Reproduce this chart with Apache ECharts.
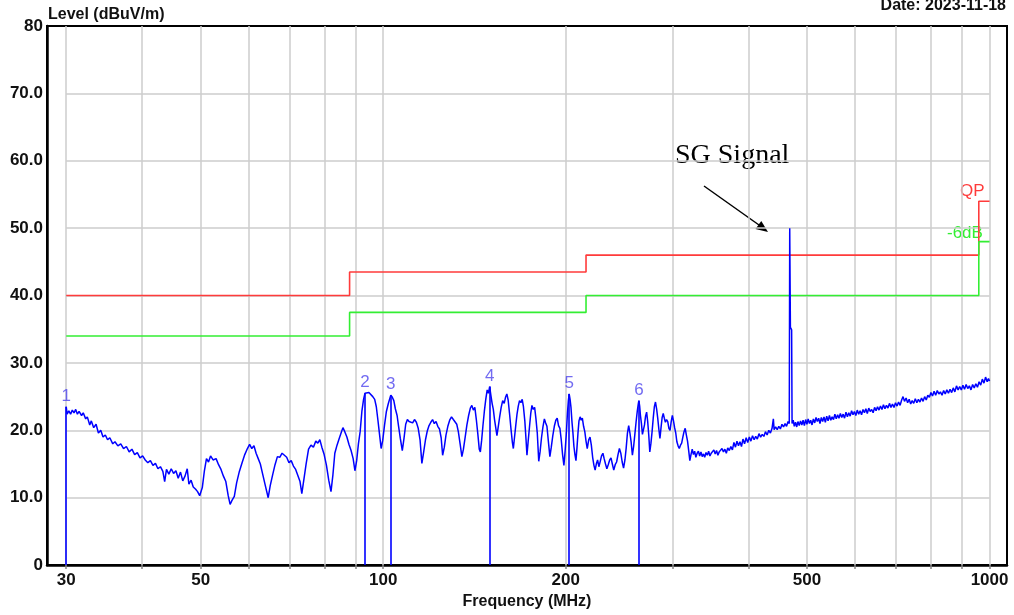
<!DOCTYPE html>
<html><head><meta charset="utf-8">
<script src="https://cdn.jsdelivr.net/npm/echarts@6/dist/echarts.min.js"></script>
<style>html,body{margin:0;padding:0;background:#fff}#c{width:1014px;height:615px}</style>
</head><body><div id="c"></div>
<script>
// ---- data ----
const xGridFreq = [30,40,50,60,70,80,90,100,200,300,400,500,600,700,800,900,1000];
const xLabelFreq = [30,50,100,200,500,1000];
const yGridLevels = [10,20,30,40,50,60,70];
const limitFreq = [30,88,216,960,1000];
const qpLimit = [40.0,43.5,46.0,54.0,54.0];
const avgLimit = [34.0,37.5,40.0,48.0,48.0];
const markerFreq = [30.0,93.3,102.9,149.8,202.6,264.0];
const markerLevel = [23.5,25.5,25.2,26.5,25.4,24.4];
const markerLabel = ['1','2','3','4','5','6'];
const trace = [
[30.0,23.5],[30.1,22.4],[30.3,22.9],[30.5,22.4],[30.7,23.0],[30.9,22.6],[31.1,23.1],[31.3,22.4],[31.5,22.8],[31.8,22.2],[32.0,22.6],[32.3,21.7],[32.5,22.0],[32.8,20.8],[33.0,21.4],[33.3,20.4],[33.6,20.9],[33.9,19.6],[34.2,20.0],[34.5,19.0],[34.8,19.3],[35.1,18.6],[35.4,18.9],[35.8,18.0],[36.1,18.3],[36.5,17.7],[36.9,18.0],[37.3,17.3],[37.7,17.6],[38.1,16.8],[38.5,17.2],[38.9,16.4],[39.3,16.7],[39.7,15.9],[40.1,16.2],[40.5,15.6],[40.9,15.2],[41.3,15.5],[41.7,14.8],[42.1,15.1],[42.5,14.3],[42.9,14.6],[43.3,13.9],[43.6,12.4],[43.9,14.2],[44.3,13.5],[44.7,14.3],[45.1,13.6],[45.5,14.0],[45.9,12.9],[46.3,13.8],[46.7,12.5],[47.1,13.2],[47.5,14.3],[47.8,12.0],[48.2,12.6],[48.6,11.6],[49.0,11.3],[49.4,10.9],[49.8,10.3],
[50.3,11.5],[50.7,14.0],[51.1,15.8],[51.5,15.3],[51.9,16.2],[52.4,15.6],[53.0,15.8],[53.5,14.9],[54.0,14.2],[54.5,13.2],[55.0,12.4],[55.5,10.3],[55.9,9.0],[56.3,9.6],[56.8,10.2],[57.3,12.2],[57.9,13.9],[58.5,15.2],[59.1,16.4],[59.7,17.3],[60.2,17.9],[60.7,17.3],[61.2,17.7],[61.7,16.6],[62.2,15.8],[62.7,15.0],[63.3,13.4],[63.9,11.8],[64.6,10.0],[65.1,11.8],[65.7,13.4],[66.3,14.9],[66.9,16.1],[67.5,16.0],[68.1,16.6],[68.7,16.3],[69.3,16.0],[69.9,15.2],[70.5,15.5],[71.1,14.7],[71.7,14.2],[72.3,13.3],[72.9,12.4],[73.4,10.6],[74.0,12.8],[74.6,15.0],[75.3,17.2],[76.0,17.8],[76.7,17.5],[77.4,18.4],[78.0,18.1],[78.6,18.6],[79.2,17.5],[79.9,16.4],[80.6,14.8],[81.3,12.6],[82.0,10.9],[82.6,13.4],[83.2,16.6],[83.9,17.8],[84.6,18.8],[85.2,19.6],[85.8,20.4],[86.4,19.8],[87.1,19.0],[87.8,17.9],[88.5,17.0],[89.2,15.8],[89.8,14.0],[90.4,15.5],[91.0,18.0],[91.6,19.8],[92.2,22.8],[92.8,24.6],[93.3,25.5],[94.0,25.7],[94.7,25.6],[95.4,25.5],[96.1,25.0],[96.8,24.6],[97.4,23.5],[98.0,21.5],[98.6,19.4],[99.2,17.3],[99.8,18.5],
[100.5,20.8],[101.2,22.8],[101.9,23.9],[102.5,24.7],[102.9,25.2],[103.5,24.9],[104.1,24.4],[104.7,23.2],[105.4,22.2],[106.0,20.6],[106.7,18.8],[107.5,17.0],[108.2,18.8],[108.9,20.9],[109.6,21.6],[110.3,21.3],[111.0,21.5],[111.8,21.1],[112.6,21.6],[113.4,21.2],[114.2,20.3],[115.0,18.6],[115.8,15.1],[116.6,16.8],[117.4,18.6],[118.2,19.9],[119.0,20.7],[119.8,21.2],[120.6,21.6],[121.4,21.0],[122.2,21.3],[123.0,20.6],[123.8,20.2],[124.6,18.9],[125.3,16.3],[126.1,17.5],[126.9,19.3],[127.8,20.6],[128.7,21.5],[129.6,22.0],[130.5,21.6],[131.4,21.8],[132.2,20.9],[133.0,19.8],[133.9,18.0],[134.8,16.1],[135.6,17.2],[136.5,19.0],[137.4,20.8],[138.3,22.2],[139.2,23.3],[140.0,23.7],[140.8,23.0],[141.6,23.4],[142.4,21.6],[143.2,19.5],[144.0,17.2],[144.6,16.8],[145.3,18.5],[146.0,20.6],[146.8,22.8],[147.6,24.6],[148.4,26.0],[149.1,25.5],[149.8,26.5],[150.5,25.2],[151.2,24.0],[151.9,23.1],[152.6,21.6],[153.3,20.4],[154.0,19.2],[154.8,20.6],[155.6,22.0],[156.5,23.4],[157.4,24.4],[158.3,24.0],[159.1,24.9],[159.9,25.4],[160.7,24.5],[161.5,22.6],[162.4,20.3],[163.3,18.2],[163.9,17.3],[164.6,18.9],[165.4,20.7],[166.2,22.4],[167.0,23.6],[167.8,24.4],[168.7,24.1],[169.5,24.6],[170.3,23.5],[171.2,21.4],[172.0,18.6],[172.6,16.3],[173.4,18.4],[174.3,20.6],[175.1,22.5],[175.9,23.7],[176.8,23.1],[177.7,23.4],[178.6,21.7],[179.5,19.6],[180.5,15.4],[181.4,16.8],[182.4,18.9],[183.4,20.5],[184.4,21.7],[185.3,21.1],[186.2,20.6],[187.2,18.4],[188.3,16.1],[189.3,17.5],[190.4,19.2],[191.5,20.6],[192.6,21.5],[193.6,21.8],[194.6,20.7],[195.6,20.3],[196.6,18.6],[197.6,16.4],[198.6,14.8],[199.5,16.9],
[200.4,19.4],[201.3,22.6],[202.0,24.4],[202.6,25.4],[203.3,24.6],[204.0,23.4],[204.8,21.2],[205.5,19.7],[206.3,17.6],[207.1,16.4],[207.9,15.5],[208.7,17.4],[209.5,19.6],[210.3,21.4],[211.2,22.0],[212.1,21.5],[213.0,21.8],[214.0,20.6],[215.0,19.8],[216.0,18.4],[217.0,17.3],[218.2,18.6],[219.3,19.0],[220.4,17.8],[221.5,16.0],[222.6,14.8],[223.6,14.1],[224.6,15.0],[225.7,15.6],[226.8,14.6],[228.0,15.4],[229.1,16.2],[230.3,16.6],[231.4,15.8],[232.6,15.0],[233.8,14.3],[235.0,14.9],[236.3,15.6],[237.5,15.9],[238.7,15.0],[240.0,14.1],[241.3,14.9],[242.6,15.3],[243.9,16.4],[245.2,17.3],[246.5,16.6],[247.8,15.3],[249.1,14.4],[250.4,15.6],[251.6,17.4],[252.8,19.6],[254.0,20.7],[255.2,19.6],[256.4,18.2],[257.6,16.3],[258.8,17.6],[260.0,19.4],[261.2,21.2],[262.4,22.8],[263.4,23.9],[264.0,24.4],[264.8,23.6],[265.6,22.2],[266.6,21.0],[267.6,19.4],[268.6,19.2],[269.7,20.8],[270.8,22.1],[271.9,22.7],[273.0,21.3],[274.1,19.3],[275.2,16.8],[276.4,18.1],[277.6,19.8],[278.8,21.8],[280.0,23.5],[281.2,24.2],[282.4,23.2],[283.6,21.8],[284.8,20.2],[286.0,18.8],[287.2,20.4],[288.4,21.9],[289.6,22.5],[290.8,21.8],[292.0,21.2],[293.3,21.6],[294.6,21.3],[295.9,20.3],[297.2,20.0],[298.5,21.3],[299.8,22.2],
[301.1,21.4],[302.4,20.4],[303.7,19.6],[305.0,18.3],[306.4,17.7],[307.8,17.3],[309.2,17.8],[310.6,18.1],[312.0,19.0],[313.4,19.8],[314.8,20.3],[316.2,19.3],[317.6,18.4],[319.0,17.0],[320.4,15.5],[321.8,16.4],[323.3,17.2],[324.8,16.4],[326.3,16.9],[327.8,16.0],[329.4,16.6],[331.0,16.9],[332.6,16.2],[334.2,16.8],[335.8,16.1],[337.4,16.5],[339.0,16.0],[340.7,16.7],[342.4,16.3],[344.1,16.9],[345.8,16.2],[347.5,16.6],[349.2,16.4],[351.0,17.1],[352.8,16.5],[354.6,17.0],[356.4,16.3],[358.2,16.8],[360.0,16.6],[362.0,17.3],[364.0,16.8],[366.0,17.2],[368.0,16.6],[370.0,17.4],[372.2,17.0],[374.4,17.6],[376.6,17.1],[378.8,18.2],[381.0,17.5],[383.2,18.4],[385.4,17.7],[387.6,18.3],[389.8,17.6],[392.0,18.7],[394.4,18.0],[396.8,18.9],[399.2,18.2],[401.6,19.0],[404.0,18.4],[406.5,19.2],[409.0,18.6],[411.5,19.1],[414.0,18.7],[416.6,19.5],[419.2,19.0],[421.8,19.4],[424.4,19.1],[427.0,19.8],[429.7,19.3],[432.4,20.0],[435.1,19.6],[437.8,20.3],[440.0,21.7],[441.2,20.1],[443.8,20.5],[446.5,20.1],[449.2,20.6],[451.9,20.2],[454.6,20.9],[457.3,20.5],[460.0,21.0],[462.6,20.6],[465.2,21.3],[467.4,21.0],[468.2,50.0],[469.4,35.3],[471.6,34.9],[472.4,21.0],[474.4,21.5],[476.4,20.6],[478.6,21.2],[480.8,20.5],[483.0,21.3],[485.4,20.7],[487.8,21.4],[490.2,20.8],[492.6,21.5],[495.0,20.7],[497.4,21.6],[499.8,20.9],
[502.2,21.7],[504.6,21.0],[507.0,21.5],[509.6,20.8],[512.2,21.7],[514.8,21.1],[517.4,21.9],[520.0,21.3],[522.6,21.8],[525.2,21.0],[527.9,21.9],[530.6,21.3],[533.3,22.0],[536.0,21.2],[538.8,22.1],[541.6,21.4],[544.4,22.2],[547.2,21.5],[550.0,22.0],[552.9,21.6],[555.8,22.4],[558.7,21.7],[561.6,22.3],[564.5,21.8],[567.5,22.5],[570.5,21.9],[573.5,22.4],[576.6,21.8],[579.7,22.7],[582.8,22.0],[585.9,22.6],[589.0,22.1],[592.2,22.9],[595.4,22.3],[598.6,22.8],[601.8,22.2],[605.1,23.0],[608.4,22.4],[611.7,22.9],[615.0,22.3],[618.4,23.1],[621.8,22.6],[625.2,23.2],[628.6,22.5],[632.1,23.3],[635.6,22.8],[639.1,23.1],[642.7,22.6],[646.3,23.4],[649.9,22.9],[653.5,23.5],[657.2,23.0],[660.9,23.6],[664.6,23.1],[668.4,23.8],[672.2,23.2],[676.0,23.7],[679.9,23.3],[683.8,24.0],[687.7,23.4],[691.7,23.9],[695.7,23.4],[699.7,24.1],[703.8,23.6],[707.9,24.2],[712.0,23.7],[716.2,24.5],[720.0,25.0],[724.0,24.3],[728.4,24.8],[732.6,24.1],[736.9,24.6],[741.2,23.9],[745.5,24.4],[749.9,24.0],[754.3,24.7],[758.8,24.1],[763.3,24.6],[767.8,24.2],[772.4,24.8],[777.0,24.3],[781.6,25.0],[786.3,24.5],[791.0,25.2],[795.7,24.9],[800.5,25.6],[805.3,25.1],[810.1,25.8],[815.0,25.2],[819.9,25.9],[824.9,25.4],[829.9,25.7],[834.9,25.2],[840.0,25.9],[845.1,25.4],[850.3,26.0],[855.5,25.5],[860.7,26.1],[866.0,25.6],[871.3,26.3],[876.6,25.7],[882.0,26.6],[887.4,26.0],[892.8,26.5],[898.3,26.0],[903.8,26.7],[909.4,26.1],[915.0,26.8],[920.6,26.2],[926.3,26.6],[932.0,26.0],[937.7,26.8],[943.5,26.3],[949.3,26.9],[955.2,26.4],[961.1,27.2],[967.0,26.7],[973.0,27.6],[979.0,27.0],[985.0,27.9],[991.0,27.2],[996.0,27.7],[1000.0,27.3]
];

// ---- chart ----
const lg = Math.log10;
const X_MIN = 1.4454, X_MAX = 3.0288;
const FONT = "'Liberation Sans', Arial, sans-serif";
const chart = echarts.init(document.getElementById('c'), null, {renderer: 'canvas'});

const gridLineData = [];
xGridFreq.forEach(f => gridLineData.push([{coord: [lg(f), 0]}, {coord: [lg(f), 80]}]));
yGridLevels.forEach(v => gridLineData.push([{coord: [lg(30), v]}, {coord: [lg(1000), v]}]));

chart.setOption({
  animation: false,
  backgroundColor: '#fff',
  grid: {left: 47, top: 26, width: 960, height: 541, show: true, borderColor: '#000', borderWidth: 2, backgroundColor: '#fff'},
  xAxis: {
    type: 'value', min: X_MIN, max: X_MAX,
    name: 'Frequency (MHz)', nameLocation: 'middle', nameGap: 28,
    nameTextStyle: {fontFamily: FONT, fontWeight: 'bold', fontSize: 16, color: '#111'},
    axisLine: {show: true, onZero: false, lineStyle: {color: '#000', width: 2.5}},
    axisTick: {show: true, customValues: xGridFreq.map(lg), length: 4, lineStyle: {color: '#888', width: 1.5}},
    axisLabel: {customValues: xLabelFreq.map(lg), formatter: v => String(Math.round(Math.pow(10, v))),
      fontFamily: FONT, fontWeight: 'bold', fontSize: 17, color: '#111', margin: 7},
    splitLine: {show: false}
  },
  yAxis: {
    type: 'value', min: 0, max: 80, interval: 10,
    axisLine: {show: true, lineStyle: {color: '#000', width: 2.5}},
    axisTick: {show: false},
    axisLabel: {formatter: v => (v === 0 || v === 80) ? String(v) : v.toFixed(1),
      fontFamily: FONT, fontWeight: 'bold', fontSize: 17, color: '#111', margin: 4},
    splitLine: {show: false}
  },
  series: [
    {type: 'line', name: 'grid', data: [], silent: true, z: 1,
     markLine: {silent: true, symbol: ['none', 'none'], z: 1, animation: false, label: {show: false},
       lineStyle: {color: '#cccccc', width: 1.5, type: 'solid'}, emphasis: {disabled: true}, data: gridLineData}},
    {type: 'line', name: 'QP', step: 'end', symbol: 'none', z: 2, silent: true,
     data: limitFreq.map((f, i) => [lg(f), qpLimit[i]]), lineStyle: {color: '#ff3b3b', width: 1.6}},
    {type: 'line', name: '-6dB', step: 'end', symbol: 'none', z: 2, silent: true,
     data: limitFreq.map((f, i) => [lg(f), avgLimit[i]]), lineStyle: {color: '#33ee33', width: 1.6}},
    {type: 'line', name: 'Level', symbol: 'none', z: 3, silent: true,
     data: trace.map(p => [lg(p[0]), p[1]]), lineStyle: {color: '#0000ff', width: 1.5},
     markLine: {silent: true, symbol: ['none', 'none'], animation: false, label: {show: false},
       lineStyle: {color: '#0000ff', width: 1.6, type: 'solid'}, emphasis: {disabled: true},
       data: markerFreq.map((f, i) => [{coord: [lg(f), 0]}, {coord: [lg(f), markerLevel[i]]}])}},
    {type: 'scatter', name: 'markers', symbolSize: 0, z: 4, silent: true,
     data: markerFreq.map((f, i) => [lg(f), markerLevel[i]]),
     label: {show: true, position: 'top', distance: 2, formatter: p => markerLabel[p.dataIndex],
       fontFamily: FONT, fontSize: 17, color: '#4f46ee'}}
  ],
  graphic: [
    {type: 'text', left: 48, top: 7, style: {text: 'Level (dBuV/m)', font: 'bold 16px ' + FONT, fill: '#111'}},
    {type: 'text', right: 8, top: -2, style: {text: 'Date: 2023-11-18', font: 'bold 16px ' + FONT, fill: '#111'}},
    {type: 'text', left: 675, top: 142, style: {text: 'SG Signal', font: "28px 'Liberation Serif', 'Times New Roman', serif", fill: '#000'}},
    {type: 'line', shape: {x1: 704, y1: 186, x2: 759, y2: 225}, style: {stroke: '#000', lineWidth: 1.5}},
    {type: 'polygon', shape: {points: [[768, 232], [755.4, 228.9], [761.3, 220.9]]}, style: {fill: '#000'}},
    {type: 'text', left: 960, top: 183, style: {text: 'QP', font: '17px ' + FONT, fill: '#ff3b3b'}},
    {type: 'text', left: 947, top: 225, style: {text: '-6dB', font: '17px ' + FONT, fill: '#33ee33'}}
  ]
});
</script>
</body></html>
